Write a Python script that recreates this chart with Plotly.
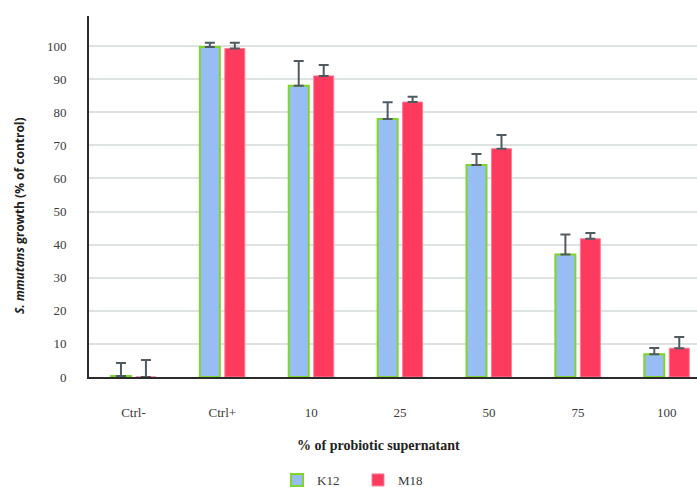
import plotly.graph_objects as go

categories = ["Ctrl-", "Ctrl+", "10", "25", "50", "75", "100"]
k12_mean = [0.3, 99.7, 88.0, 78.0, 64.1, 37.0, 6.9]
k12_err = [3.9, 1.3, 7.5, 5.0, 3.3, 6.1, 1.9]
m18_mean = [0.0, 99.3, 91.0, 83.1, 69.0, 41.8, 8.7]
m18_err = [5.1, 1.7, 3.3, 1.6, 4.1, 1.7, 3.4]
y_ticks = [0, 10, 20, 30, 40, 50, 60, 70, 80, 90, 100]

TEXT = "#3a3a3a"
ERR = "#4f5b60"
SERIF = "Liberation Serif"
SANS = "Open Sans"

W, H = 697, 487
L, R, T, B = 89, 0, 16, 110

fig = go.Figure()
fig.add_trace(go.Bar(
    name="K12", x=categories, y=k12_mean,
    marker=dict(color="#98BDF4", line=dict(color="#7FD62A", width=2)),
    error_y=dict(type="data", symmetric=False, array=k12_err,
                 arrayminus=[0] * len(k12_err), color=ERR, thickness=2, width=5),
))
fig.add_trace(go.Bar(
    name="M18", x=categories, y=m18_mean,
    marker=dict(color="#FE3A5E", line=dict(color="#FF7C92", width=1)),
    error_y=dict(type="data", symmetric=False, array=m18_err,
                 arrayminus=[0] * len(m18_err), color=ERR, thickness=2, width=5),
))

# axis titles placed in pixel terms on the container
fig.add_annotation(
    text="<b>% of probiotic supernatant</b>", xref="paper", yref="paper",
    x=(378 - L) / (W - L - R), y=-(445 - (H - B)) / (H - T - B),
    xanchor="center", yanchor="middle", showarrow=False,
    font=dict(family=SERIF, size=14, color="#222222"),
)
fig.add_annotation(
    text="<b><i>S. mmutans</i> growth (% of control)</b>", xref="paper", yref="paper",
    x=-(L - 19) / (W - L - R), y=((H - B) - 216) / (H - T - B),
    xanchor="center", yanchor="middle", textangle=-90, showarrow=False,
    font=dict(family=SANS, size=12, color="#222222"),
)

fig.update_layout(
    width=W, height=H,
    margin=dict(l=L, r=R, t=T, b=B, autoexpand=False),
    paper_bgcolor="white", plot_bgcolor="white",
    barmode="group", bargap=0.438, bargroupgap=0.2,
    font=dict(family=SERIF, size=13, color=TEXT),
    showlegend=True,
    legend=dict(orientation="h", xref="container", yref="container",
                x=277 / W, xanchor="left", y=(H - 480) / H, yanchor="middle",
                font=dict(family=SERIF, size=13, color=TEXT),
                entrywidth=36, entrywidthmode="pixels", traceorder="normal"),
    xaxis=dict(
        type="category", range=[-0.5, 6.34], automargin=False,
        showline=True, linecolor="#2b2b2b", linewidth=2,
        showgrid=False, ticks="", ticklabelstandoff=22,
        tickfont=dict(size=13, color=TEXT),
    ),
    yaxis=dict(
        range=[0, 109.1], tickvals=y_ticks, automargin=False,
        showline=True, linecolor="#2b2b2b", linewidth=2,
        showgrid=True, gridcolor="#DDE3E3", gridwidth=2,
        zeroline=False, ticks="", ticklabelstandoff=18,
        tickfont=dict(size=13, color=TEXT),
    ),
)

fig.write_html("out.html")
